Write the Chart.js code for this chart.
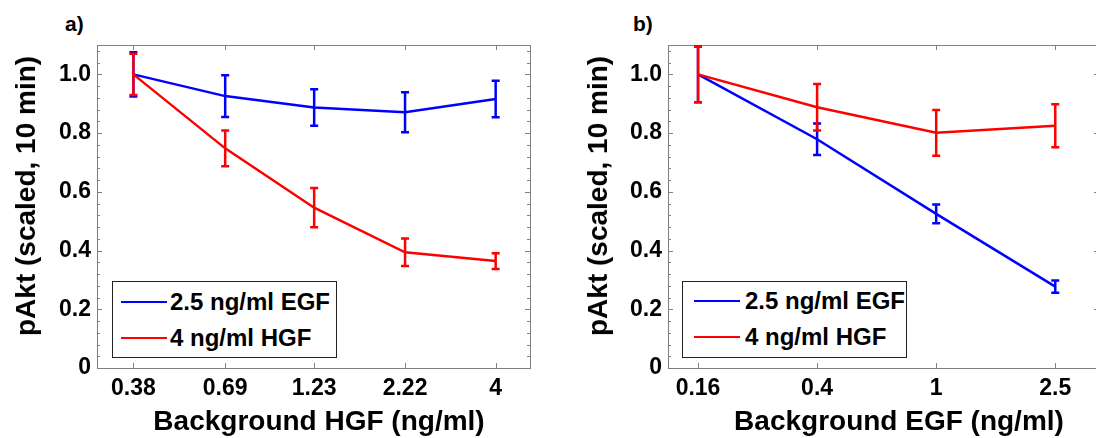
<!DOCTYPE html>
<html>
<head>
<meta charset="utf-8">
<script src="https://cdn.jsdelivr.net/npm/chart.js@4.4.1/dist/chart.umd.min.js"></script>
<style>
  body { margin: 0; width: 1096px; height: 438px; overflow: hidden; position: relative; background: #fff;
         font-family: "Liberation Sans", Arial, sans-serif; font-weight: bold; color: #000; }
  .panel { position: absolute; top: 0; height: 438px; }
  .tag { position: absolute; font-size: 21px; line-height: 24px; }
  .axtitle { position: absolute; font-size: 28px; line-height: 1; white-space: nowrap;
             transform: translate(-50%, -50%); }
  .axtitle.vert { transform: translate(-50%, -50%) rotate(-90deg); }
  .legend { position: absolute; border: 1.5px solid #222; background: #fff; box-sizing: border-box; }
  .legend .ln { position: absolute; height: 2px; width: 46px; }
  .legend .tx { position: absolute; font-size: 24px; line-height: 30px; white-space: nowrap; }
</style>
</head>
<body>
<div class="tag" style="left:65px;top:12px">a)</div>
<div class="tag" style="left:633px;top:12px">b)</div>

<div class="panel" style="left:0;width:548px"><canvas id="chartA" width="548" height="438"></canvas></div>
<div class="panel" style="left:548px;width:552px"><canvas id="chartB" width="552" height="438"></canvas></div>

<div class="axtitle vert" style="left:26px;top:196px">pAkt (scaled, 10 min)</div>
<div class="axtitle" style="left:319px;top:421px">Background HGF (ng/ml)</div>
<div class="axtitle vert" style="left:598px;top:196px">pAkt (scaled, 10 min)</div>
<div class="axtitle" style="left:899px;top:421px">Background EGF (ng/ml)</div>

<div class="legend" style="left:112px;top:281px;width:225px;height:77px">
  <div class="ln" style="left:8px;top:19px;background:#0000ff"></div>
  <div class="tx" style="left:57px;top:5px">2.5 ng/ml EGF</div>
  <div class="ln" style="left:8px;top:55px;background:#ff0000"></div>
  <div class="tx" style="left:57px;top:41px">4 ng/ml HGF</div>
</div>
<div class="legend" style="left:682px;top:281px;width:225px;height:77px">
  <div class="ln" style="left:11px;top:18px;background:#0000ff"></div>
  <div class="tx" style="left:62px;top:4px">2.5 ng/ml EGF</div>
  <div class="ln" style="left:11px;top:54px;background:#ff0000"></div>
  <div class="tx" style="left:62px;top:40px">4 ng/ml HGF</div>
</div>

<script>
// panel a: background HGF doses
const hgfDoses = [0.38, 0.69, 1.23, 2.22, 4];
const hgfTickLabels = ['0.38', '0.69', '1.23', '2.22', '4'];
const aEgfMean = [1.0, 0.926, 0.887, 0.871, 0.916];
const aEgfErr = [0.075, 0.071, 0.062, 0.068, 0.062];
const aHgfMean = [1.0, 0.748, 0.546, 0.394, 0.364];
const aHgfErr = [0.07, 0.061, 0.067, 0.047, 0.027];

// panel b: background EGF doses
const egfDoses = [0.16, 0.4, 1, 2.5];
const egfTickLabels = ['0.16', '0.4', '1', '2.5'];
const bEgfMean = [1.0, 0.779, 0.525, 0.277];
const bEgfErr = [0.095, 0.054, 0.032, 0.021];
const bHgfMean = [1.0, 0.888, 0.801, 0.825];
const bHgfErr = [0.095, 0.079, 0.078, 0.073];

const yTicks = [0, 0.2, 0.4, 0.6, 0.8, 1.0];
const yTickLabels = ['0', '0.2', '0.4', '0.6', '0.8', '1.0'];

const BLUE = '#0000ff';
const RED = '#ff0000';

Chart.defaults.font.family = '"Liberation Sans", Arial, sans-serif';
Chart.defaults.font.weight = 'bold';
Chart.defaults.color = '#000';

// box around the plot with inward ticks, like matlab axes
const frameTicks = {
  id: 'frameTicks',
  beforeDatasetsDraw(chart) {
    const { ctx, chartArea: a, scales: { x, y } } = chart;
    ctx.save();
    ctx.strokeStyle = '#808080';
    ctx.lineWidth = 1;
    ctx.beginPath();
    x.ticks.forEach(t => {
      const px = Math.round(x.getPixelForValue(t.value)) + 0.5;
      ctx.moveTo(px, a.bottom); ctx.lineTo(px, a.bottom - 5);
      ctx.moveTo(px, a.top); ctx.lineTo(px, a.top + 5);
    });
    for (let i = 0; i * 0.04 < 1.1; i++) {
      const py = Math.round(y.getPixelForValue(i * 0.04)) + 0.5;
      const len = i % 5 === 0 ? 5 : 3;
      ctx.moveTo(a.left, py); ctx.lineTo(a.left + len, py);
      ctx.moveTo(a.right, py); ctx.lineTo(a.right - len, py);
    }
    ctx.stroke();
    ctx.strokeRect(Math.round(a.left) + 0.5, Math.round(a.top) + 0.5,
                   Math.round(a.right - a.left), Math.round(a.bottom - a.top));
    ctx.restore();
  }
};

const errorBars = {
  id: 'errorBars',
  afterDatasetDraw(chart, args) {
    const ds = chart.data.datasets[args.index];
    if (!ds.errors) return;
    const { ctx, scales: { y } } = chart;
    ctx.save();
    ctx.strokeStyle = ds.borderColor;
    ctx.lineWidth = 2.5;
    ctx.beginPath();
    args.meta.data.forEach((pt, i) => {
      const v = ds.data[i].y, e = ds.errors[i];
      const top = y.getPixelForValue(v + e);
      const bot = y.getPixelForValue(v - e);
      ctx.moveTo(pt.x, top); ctx.lineTo(pt.x, bot);
      ctx.moveTo(pt.x - 4, top); ctx.lineTo(pt.x + 4, top);
      ctx.moveTo(pt.x - 4, bot); ctx.lineTo(pt.x + 4, bot);
    });
    ctx.stroke();
    ctx.restore();
  }
};

function makePanel(id, doses, tickLabels, egf, egfErr, hgf, hgfErr, opt) {
  const pts = (vals) => doses.map((d, i) => ({ x: d, y: vals[i] }));
  return new Chart(document.getElementById(id), {
    type: 'line',
    data: {
      datasets: [
        { label: '2.5 ng/ml EGF', data: pts(egf), errors: egfErr, borderColor: BLUE,
          borderWidth: 2.5, pointRadius: 0, tension: 0, order: 2 },
        { label: '4 ng/ml HGF', data: pts(hgf), errors: hgfErr, borderColor: RED,
          borderWidth: 2.5, pointRadius: 0, tension: 0, order: 1 }
      ]
    },
    options: {
      responsive: false,
      animation: false,
      devicePixelRatio: 1,
      layout: { padding: { left: 0, top: 45, right: opt.right, bottom: 0 } },
      plugins: { legend: { display: false }, tooltip: { enabled: false } },
      scales: {
        x: {
          type: 'logarithmic',
          min: opt.xmin, max: opt.xmax,
          afterBuildTicks: s => { s.ticks = doses.map(v => ({ value: v })); },
          afterFit: s => { s.height = 70; },
          grid: { display: false, drawTicks: false },
          border: { display: false },
          ticks: { autoSkip: false, maxRotation: 0, padding: 7, font: { size: 23 },
                   callback: (v, i) => tickLabels[i] }
        },
        y: {
          min: 0, max: 1.1,
          afterBuildTicks: s => { s.ticks = yTicks.map(v => ({ value: v })); },
          afterFit: s => { s.width = opt.yWidth; },
          grid: { display: false, drawTicks: false },
          border: { display: false },
          ticks: { padding: 6, font: { size: 23 }, callback: (v, i) => yTickLabels[i] }
        }
      }
    },
    plugins: [frameTicks, errorBars]
  });
}

makePanel('chartA', hgfDoses, hgfTickLabels, aEgfMean, aEgfErr, aHgfMean, aHgfErr,
  { xmin: 0.315, xmax: 5.0, right: 18, yWidth: 97 });
makePanel('chartB', egfDoses, egfTickLabels, bEgfMean, bEgfErr, bHgfMean, bHgfErr,
  { xmin: 0.127, xmax: 3.5, right: 1, yWidth: 120 });
</script>
</body>
</html>
